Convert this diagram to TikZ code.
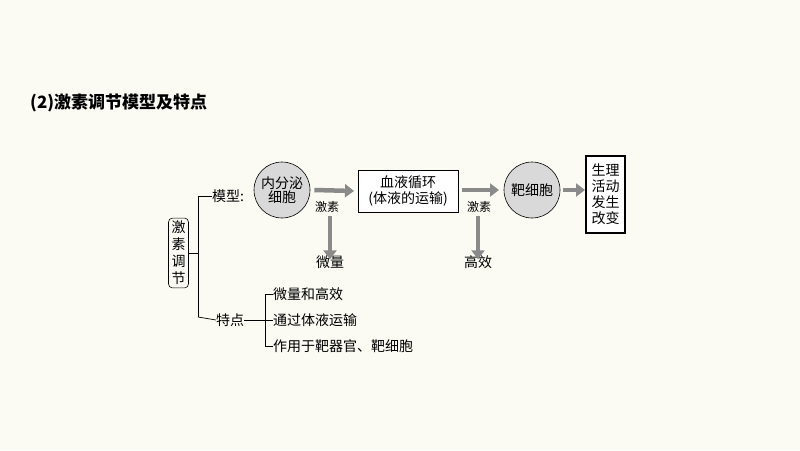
\documentclass[tikz,border=0pt]{standalone}
\usepackage{fontspec}
\setmainfont{Noto Sans CJK SC}
\usetikzlibrary{arrows.meta}
\definecolor{bgc}{HTML}{FBFBF4}
\definecolor{arr}{HTML}{8A8A8A}
\definecolor{cellc}{HTML}{D9D9D9}
\tikzset{
  x=1pt,y=-1pt,
  txt/.style={font=\fontsize{14}{16}\selectfont, inner sep=0pt},
  cell/.style={circle, draw, line width=0.6pt, fill=cellc, minimum size=56pt, inner sep=0pt, align=center, font=\fontsize{14}{16}\selectfont},
  boxn/.style={draw, line width=0.8pt, fill=white, align=center, font=\fontsize{14}{16}\selectfont},
  fat/.style={draw=arr, line width=4.5pt, -{Triangle[length=9pt,width=13pt]}},
  br/.style={line width=0.7pt}
}
\begin{document}
\begin{tikzpicture}
\fill[bgc] (0,0) rectangle (800,450);
\useasboundingbox (0,0) rectangle (800,450);
\node[anchor=west, font=\bfseries\fontsize{17}{19}\selectfont, inner sep=0pt] (title) at (30,103) {(2)激素调节模型及特点};
\node[draw, rounded corners=4pt, line width=0.6pt, align=center, txt, inner sep=3pt, font=\fontsize{14}{17}\selectfont] (reg) at (178.5,253) {激\\素\\调\\节};
\coordinate (bt) at (198,196);
\coordinate (bb) at (198,317);
\coordinate (bm) at (198,253);
\node[txt, anchor=west] (model) at (212,196) {模型:};
\node[txt, anchor=west] (feat) at (216,320) {特点};
\draw[br] (reg.east) -- (bm);
\draw[br] (bt) -- (bb);
\draw[br] (bt) -- (model.west);
\draw[br] (bb) -- (feat.west);
\node[cell] (endo) at (282,190) {内分泌\\[-2pt]细胞};
\node[boxn, minimum width=100pt, minimum height=42pt, inner sep=1pt] (blood) at (408,191) {血液循环\\(体液的运输)};
\node[cell] (target) at (532,190) {靶细胞};
\node[boxn, minimum width=39pt, minimum height=77pt, inner sep=2pt, line width=1.2pt] (change) at (605.5,194.5) {生理\\活动\\发生\\改变};
\draw[fat] (endo.east) ++(4,0) coordinate (a1s) -- (blood.west -| 354,190) coordinate (a1e);
\draw[fat] (462,190) coordinate (a2s) -- (499,190) coordinate (a2e);
\draw[fat] (target.east) ++(3,0) -- (585,190);
\node[txt, font=\fontsize{12}{14}\selectfont] (h1) at (327,207) {激素};
\node[txt, font=\fontsize{12}{14}\selectfont] (h2) at (479,207) {激素};
\node[txt] (wl) at (330,262) {微量};
\node[txt] (gx) at (478,262) {高效};
\draw[fat] (h1.south -| wl.north) ++(0,3) -- ([yshift=-4pt]wl.north);
\draw[fat] (h2.south -| gx.north) ++(0,3) -- ([yshift=-4pt]gx.north);
\coordinate (ft) at (265,294);
\coordinate (fb) at (265,346);
\node[txt, anchor=west] (f1) at (273,294) {微量和高效};
\node[txt, anchor=west] (f2) at (273,320) {通过体液运输};
\node[txt, anchor=west] (f3) at (273,346) {作用于靶器官、靶细胞};
\draw[br] (feat.east) -- (f2.west);
\draw[br] (ft) -- (fb);
\draw[br] (ft) -- (f1.west);
\draw[br] (fb) -- (f3.west);
\end{tikzpicture}
\end{document}
